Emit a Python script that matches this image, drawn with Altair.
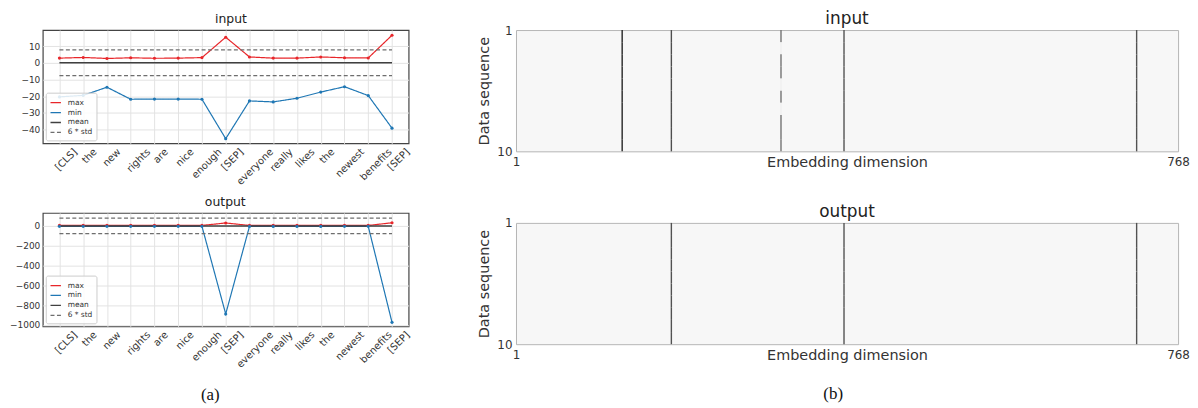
import json
import altair as alt
import pandas as pd

# ---------------- data ----------------
tokens = ["[CLS]", "the", "new", "rights", "are", "nice", "enough", "[SEP]",
          "everyone", "really", "likes", "the", "newest", "benefits", "[SEP]"]

in_max = [2.8, 3.2, 2.6, 3.0, 2.7, 2.8, 3.1, 15.3, 3.5, 2.8, 2.8, 3.5, 3.0, 2.9, 16.5]
in_min = [-20.4, -19.5, -14.6, -21.8, -21.7, -21.7, -21.8, -45.4, -22.8, -23.4,
          -21.2, -17.5, -14.3, -19.6, -39.1]
in_mean = [0.0, 0.0, 0.0, 0.0, 0.0, 0.0, 0.0, 0.0, 0.0, 0.0, 0.0, 0.0, 0.0, 0.0, 0.0]
in_std6 = 7.7

out_max = [5, 5, 5, 5, 5, 5, 5, 30, 5, 5, 5, 5, 5, 5, 32]
out_min = [-4, -4, -4, -4, -4, -4, -4, -889, -5, -5, -5, -5, -4, -4, -973]
out_mean = [0, 0, 0, 0, 0, 0, 0, 0, 0, 0, 0, 0, 0, 0, 0]
out_std6 = 78

in_y_ticks = [-40, -30, -20, -10, 0, 10]
out_y_ticks = [-1000, -800, -600, -400, -200, 0]
in_y_domain = [-48.2, 19.6]
out_y_domain = [-1013, 131]

series_names = ["max", "min", "mean", "6 * std"]

# embedding-dimension outlier columns (rows 1..10, darkness 0..1)
in_dims = [124, 181, 308, 381, 720]
in_shade = [
    [0.85, 0.85, 0.85, 0.85, 0.85, 0.85, 0.85, 0.85, 0.85, 0.85],
    [0.66, 0.66, 0.66, 0.66, 0.66, 0.66, 0.66, 0.66, 0.66, 0.66],
    [0.50, 0.03, 0.50, 0.50, 0.03, 0.50, 0.03, 0.50, 0.50, 0.50],
    [0.64, 0.64, 0.64, 0.64, 0.64, 0.64, 0.64, 0.64, 0.64, 0.64],
    [0.64, 0.64, 0.64, 0.64, 0.64, 0.64, 0.64, 0.64, 0.64, 0.64],
]
out_dims = [181, 381, 720]
out_shade = [
    [0.64, 0.64, 0.64, 0.64, 0.64, 0.64, 0.64, 0.64, 0.64, 0.64],
    [0.64, 0.64, 0.64, 0.64, 0.64, 0.64, 0.64, 0.64, 0.64, 0.64],
    [0.64, 0.64, 0.64, 0.64, 0.64, 0.64, 0.64, 0.64, 0.64, 0.64],
]

# ---------------- styles ----------------
RED = "#e8262a"
BLUE = "#1f77b4"
series_colors = [RED, BLUE, "#404040", "#6e6e6e"]
series_dash = [[1, 0], [1, 0], [1, 0], [4, 2.5]]
FONT = "DejaVu Sans"
label_arr = json.dumps(tokens)


def long_table(mx, mn, mean, std6):
    recs = []
    for i in range(len(tokens)):
        recs.append(dict(idx=i, value=mx[i], series="max", grp="max"))
        recs.append(dict(idx=i, value=mn[i], series="min", grp="min"))
        recs.append(dict(idx=i, value=mean[i], series="mean", grp="mean"))
        recs.append(dict(idx=i, value=std6, series="6 * std", grp="std_hi"))
        recs.append(dict(idx=i, value=-std6, series="6 * std", grp="std_lo"))
    return pd.DataFrame(recs)


def legend():
    return alt.Legend(
        title=None, orient="bottom-left", offset=3,
        fillColor="rgba(255,255,255,0.85)", strokeColor="#cccccc",
        padding=4, cornerRadius=2, labelFontSize=7.5, labelColor="#333",
        symbolType="stroke", symbolSize=110, symbolStrokeWidth=1.3,
        rowPadding=0, labelOffset=6,
    )


def token_panel(df, title, ydom, yticks):
    # matplotlib-style rotated labels: the rotated box is centred under its tick
    x = alt.X(
        "idx:Q",
        scale=alt.Scale(domain=[-0.7, len(tokens) - 0.3], nice=False, zero=False),
        axis=alt.Axis(
            values=list(range(len(tokens))),
            labelExpr=f"{label_arr}[datum.value]",
            labelAngle=315, labelAlign="right", labelBaseline="top",
            labelOffset={"expr": f"(length({label_arr}[datum.value]) * 5.7 + 6) * 0.3536"},
            labelPadding=3,
            labelOverlap=False, labelBound=False,
            ticks=False, domain=False, grid=True, gridColor="#e3e3e3",
            title=None, labelFontSize=10, labelColor="#333",
        ),
    )
    y = alt.Y(
        "value:Q",
        scale=alt.Scale(domain=ydom, nice=False, zero=False),
        axis=alt.Axis(
            values=yticks, format="d", ticks=False, domain=False, grid=True,
            labelOverlap=False,
            gridColor="#e3e3e3", title=None, labelFontSize=9, labelPadding=3,
            labelColor="#333",
        ),
    )
    lines = alt.Chart(df).mark_line(clip=True).encode(
        x=x,
        y=y,
        color=alt.Color("series:N", scale=alt.Scale(domain=series_names, range=series_colors),
                        legend=legend()),
        strokeDash=alt.StrokeDash("series:N", scale=alt.Scale(domain=series_names, range=series_dash),
                                  legend=legend()),
        strokeWidth=alt.condition("datum.series == 'mean'", alt.value(1.6), alt.value(1.2)),
        detail="grp:N",
    )
    pts = alt.Chart(df).transform_filter(
        "datum.series == 'max' || datum.series == 'min'"
    ).mark_circle(size=10, opacity=1).encode(
        x=x,
        y=y,
        color=alt.condition("datum.series == 'max'", alt.value(RED), alt.value(BLUE)),
    )
    return alt.layer(lines, pts).properties(
        width=368, height=114,
        title=alt.Title(title, fontSize=12.5, fontWeight="normal", frame="bounds", dx=15,
                        offset=4.5, color="#222", font=FONT),
        view=alt.ViewBackground(fill="white", stroke="#444", strokeWidth=1.2),
    )


def dim_panel(dims, shades, title):
    recs = []
    for k, d in enumerate(dims):
        for r in range(10):
            recs.append(dict(dim=d, row=r + 1, level=shades[k][r]))
    df = pd.DataFrame(recs)
    return alt.Chart(df).transform_calculate(top="datum.row - 1").mark_rule(
        strokeWidth=1.4
    ).encode(
        x=alt.X(
            "dim:Q",
            scale=alt.Scale(domain=[1, 768], nice=False, zero=False),
            axis=alt.Axis(
                values=[1, 768], format="d", ticks=False, domain=False, grid=False,
                labelFlush=False, labelFontSize=12, labelPadding=5, labelColor="#333",
                labelOverlap=False,
                title="Embedding dimension", titleFontSize=14.5, titleFontWeight="normal",
                titleColor="#333", titleY=4, titleBaseline="top",
            ),
        ),
        y=alt.Y(
            "top:Q",
            scale=alt.Scale(domain=[0, 10], reverse=True, nice=False, zero=False),
            axis=alt.Axis(
                values=[0, 10], labelExpr="datum.value == 0 ? '1' : '10'",
                ticks=False, domain=False, grid=False, labelFontSize=12,
                labelPadding=4, labelColor="#333", labelOverlap=False,
                title="Data sequence", titleFontSize=14.5, titleFontWeight="normal",
                titleColor="#333", titlePadding=5,
            ),
        ),
        y2="row:Q",
        color=alt.Color("level:Q", scale=alt.Scale(domain=[0, 1], range=["#f7f7f7", "#000000"]),
                        legend=None),
    ).properties(
        width=666, height=122,
        title=alt.Title(title, fontSize=17, fontWeight="normal", offset=-4,
                        color="#222", font=FONT),
        view=alt.ViewBackground(fill="#f7f7f7", stroke="#b5b5b5", strokeWidth=1),
    )


a1 = token_panel(long_table(in_max, in_min, in_mean, in_std6), "input", in_y_domain, in_y_ticks)
a2 = token_panel(long_table(out_max, out_min, out_mean, out_std6), "output", out_y_domain, out_y_ticks)
b1 = dim_panel(in_dims, in_shade, "input")
b2 = dim_panel(out_dims, out_shade, "output")

left = alt.vconcat(
    a1, a2, spacing=8,
    title=alt.Title("(a)", orient="bottom", anchor="middle", fontSize=17,
                    font="Liberation Serif", fontWeight="normal", offset=17, color="#111"),
).resolve_scale(color="independent", strokeDash="independent").resolve_legend(
    color="independent", strokeDash="independent")
right = alt.vconcat(
    b1, b2, spacing=33,
    title=alt.Title("(b)", orient="bottom", anchor="middle", fontSize=17,
                    font="Liberation Serif", fontWeight="normal", offset=24, color="#111"),
).resolve_scale(color="independent").resolve_legend(color="independent")

chart = alt.hconcat(left, right, spacing=64).resolve_scale(
    color="independent", strokeDash="independent"
).resolve_legend(color="independent", strokeDash="independent").properties(
    padding=0, background="white"
).configure(font=FONT)

chart.save("out.html", embed_options={"renderer": "svg", "actions": False})
